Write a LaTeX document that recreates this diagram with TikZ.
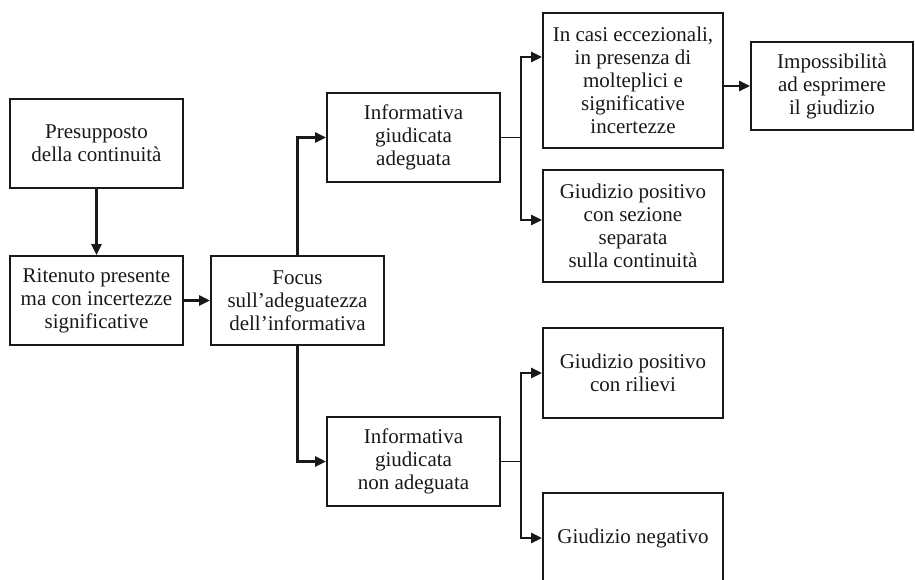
\documentclass[tikz,border=0pt]{standalone}
\usepackage{fontspec}
\setmainfont{Liberation Serif}
\usetikzlibrary{arrows.meta}

\begin{document}
\begin{tikzpicture}[
    x=1pt, y=-1pt,
    >={Triangle[length=11pt,width=10pt]},
    box/.style={draw=black!90, line width=2pt, rectangle, minimum width=173pt, minimum height=89pt, inner sep=2pt, align=center, text=black!90, font=\fontsize{21}{23}\selectfont},
    widebox/.style={box, minimum width=180pt},
    link/.style={draw=black!90, line width=2.6pt},
    stub/.style={draw=black!90, line width=1.6pt}
]
    \useasboundingbox (0,0) rectangle (915,579);
    \clip (0,0) rectangle (915,579);

    % Left column
    \node[box] (pres) at (96.5,143.5) {Presupposto\\della continuità};
    \node[box] (rit) at (96.5,300.5) {Ritenuto presente\\ma con incertezze\\significative};
    \node[box] (focus) at (297.5,300.5) {Focus\\sull’adeguatezza\\dell’informativa};

    \draw[link, ->] (pres) -- (rit);
    \draw[link, ->] (rit) -- (focus);

    % Informativa
    \node[box] (infad) at (413.5,137.5) {Informativa\\giudicata\\adeguata};
    \node[box] (infnon) at (413.5,461.5) {Informativa\\giudicata\\non adeguata};

    \draw[link, ->] (focus.north) |- (infad.west);
    \draw[link, ->] (focus.south) |- (infnon.west);

    % Esiti informativa adeguata
    \node[widebox, minimum height=135pt] (casi) at (633,80.5) {In casi eccezionali,\\in presenza di\\molteplici e\\significative\\incertezze};
    \node[box, minimum width=162pt, minimum height=88pt] (imposs) at (832,86) {Impossibilità\\ad esprimere\\il giudizio};
    \node[widebox, minimum height=112pt] (sez) at (633,226) {Giudizio positivo\\con sezione\\separata\\sulla continuità};

    \coordinate (jad) at (521,137.5);
    \draw[stub] (infad.east) -- (jad);
    \draw[link, ->] (jad) |- ([yshift=23.5pt]casi.west);
    \draw[link, ->] (jad) |- ([yshift=6pt]sez.west);
    \draw[link, ->] (casi.east |- imposs.west) -- (imposs.west);

    % Esiti informativa non adeguata
    \node[widebox, minimum height=90pt] (ril) at (633,373) {Giudizio positivo\\con rilievi};
    \node[widebox, minimum height=90pt] (neg) at (633,538) {Giudizio negativo};

    \coordinate (jnon) at (521,461.5);
    \draw[stub] (infnon.east) -- (jnon);
    \draw[link, ->] (jnon) |- (ril.west);
    \draw[link, ->] (jnon) |- (neg.west);

\end{tikzpicture}
\end{document}
